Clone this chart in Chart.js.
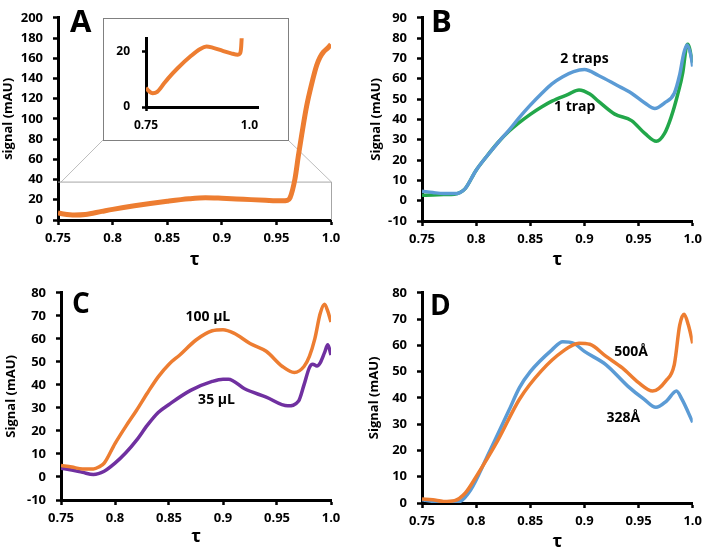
<!DOCTYPE html>
<html><head><meta charset="utf-8">
<script src="https://cdn.jsdelivr.net/npm/chart.js@4/dist/chart.umd.min.js"></script>
<style>
html,body{margin:0;padding:0;background:#fff;}
body{width:707px;height:549px;position:relative;overflow:hidden;}
canvas.p{position:absolute;}
#insetBox{position:absolute;left:103px;top:18px;width:184px;height:121px;border:1px solid #808080;background:#fff;}
#insetBox canvas{position:absolute;left:0;top:0;}
</style></head><body>
<canvas id="cA" class="p" style="left:0px;top:0px" width="353" height="275"></canvas>
<canvas id="cB" class="p" style="left:353px;top:0px" width="354" height="275"></canvas>
<canvas id="cC" class="p" style="left:0px;top:275px" width="353" height="274"></canvas>
<canvas id="cD" class="p" style="left:353px;top:275px" width="354" height="274"></canvas>
<div id="insetBox"><canvas id="cI" width="184" height="121"></canvas></div>
<script>
// ---------- tick labels ----------
const xTicks = [0.75, 0.8, 0.85, 0.9, 0.95, 1.0];
const yTicksA = [0, 20, 40, 60, 80, 100, 120, 140, 160, 180, 200];
const yTicksB = [-10, 0, 10, 20, 30, 40, 50, 60, 70, 80, 90];
const yTicksC = [-10, 0, 10, 20, 30, 40, 50, 60, 70, 80];
const yTicksD = [0, 10, 20, 30, 40, 50, 60, 70, 80];
const insetXTicks = [0.75, 1.0];
const insetYTicks = [0, 20];

// ---------- panel A ----------
const aTau = [0.75,0.755,0.765,0.775,0.79,0.8,0.82,0.85,0.87,0.885,0.9,0.92,0.94,0.955,0.96,0.9625,0.967,0.97,0.9732,0.9777,0.9823,0.9869,0.99,0.993,0.9975,1.0];
const aSignal = [7,6,5,5.5,8.5,10.5,14,18.5,21,22,21.5,20.5,19.5,19,19.5,22,40.7,62.6,84.5,112.7,134.6,153,161,166,170.6,173.7];

// ---------- panel B ----------
const bTau2 = [0.75,0.76,0.77,0.78,0.785,0.79,0.8,0.81,0.82,0.83,0.84,0.85,0.86,0.87,0.88,0.89,0.9,0.913,0.93,0.9435,0.9558,0.965,0.974,0.983,0.9878,0.9918,0.9948,0.9985,1.0];
const bTwoTraps = [4.7,4,3.5,3.5,4,6,15,22,28.5,34.5,41,47,52.5,57.5,61,63.5,64.5,61.6,56.8,52.9,48.1,45.4,48.1,52.9,61.6,72.6,76.6,71,66];
const bTau1 = [0.75,0.76,0.77,0.78,0.785,0.79,0.8,0.81,0.82,0.83,0.84,0.85,0.86,0.87,0.885,0.895,0.905,0.913,0.928,0.9435,0.9558,0.9664,0.974,0.98,0.986,0.9908,0.9939,0.9954,1.0];
const bOneTrap = [2.7,2.8,3,3.2,4,6,15,22,28.5,34,38.5,42.5,46,49,52.3,54.5,52.5,48.9,42.6,39.4,33.1,29.2,33.1,41,52,63,75,77,68];

// ---------- panel C ----------
const cTau100 = [0.75,0.76,0.77,0.78,0.785,0.79,0.8,0.81,0.82,0.83,0.84,0.85,0.86,0.875,0.89,0.9,0.91,0.925,0.94,0.955,0.966,0.975,0.98,0.985,0.99,0.994,0.997,1.0];
const c100uL = [5,4.3,3.5,3.5,4.3,6,14.5,22,29,36.5,43.5,49,53,59.5,63.5,64,62.5,58,54.6,48,45.4,48,52.4,60,71,75,72,67.3];
const cTau35 = [0.75,0.76,0.77,0.78,0.79,0.8,0.81,0.82,0.83,0.84,0.85,0.87,0.89,0.9,0.905,0.92,0.94,0.96,0.97,0.975,0.98,0.983,0.987,0.99,0.994,0.997,1.0];
const c35uL = [3.8,3,2,1.1,2.5,6,10.5,16,22.5,28,31.5,37.6,41.5,42.5,42.5,38.3,34.7,30.9,33,40,47.5,49,48.2,49.6,54,57.4,53];

// ---------- panel D ----------
const dTau328 = [0.75,0.76,0.77,0.785,0.795,0.81,0.83,0.84,0.85,0.87,0.88,0.89,0.9,0.92,0.94,0.955,0.966,0.976,0.985,0.99,1.0];
const d328A = [1.2,0.6,0,0.6,5,17.5,35,43.9,50,58.3,61.4,60.8,57.7,52.6,44.5,39.5,36.4,38.9,42.6,39.5,30.7];
const dTau500 = [0.75,0.76,0.77,0.78,0.79,0.8,0.82,0.84,0.86,0.88,0.895,0.905,0.92,0.935,0.95,0.963,0.975,0.983,0.988,0.992,0.996,1.0];
const d500A = [1.5,1.2,0.6,0.9,3.8,10,23.8,39.5,50.2,57.7,60.8,60.4,55.8,51.4,45.8,42.6,46.4,52.7,67.7,71.8,67.7,60.8];

// ---------- colours ----------
const ORANGE = '#ED7D31', BLUE = '#5B9BD5', GREEN = '#22A74A', PURPLE = '#7030A0';

const zip = (xs, ys) => xs.map((x, i) => ({x: x, y: ys[i]}));
const FONT = "'Open Sans', 'DejaVu Sans', sans-serif";
Chart.defaults.font.family = FONT;
Chart.defaults.font.weight = 'bold';
Chart.defaults.color = '#000';

function line(xs, ys, color, w) {
  return {data: zip(xs, ys), borderColor: color, borderWidth: w, pointRadius: 0,
          fill: false, tension: 0.4, cubicInterpolationMode: 'monotone'};
}

function xScale(xh, tpad) {
  return {type: 'linear', min: 0.75, max: 1.0,
    afterBuildTicks: s => { s.ticks = xTicks.map(v => ({value: v})); },
    afterFit: s => { s.height = xh; },
    ticks: {callback: v => (v === 1 ? '1.0' : String(v)), padding: 5, color: '#000',
            font: {size: 13, weight: 'bold'}, maxRotation: 0, autoSkip: false},
    grid: {display: true, drawOnChartArea: false, drawTicks: true, tickLength: 5, tickWidth: 2.5, tickColor: '#000'},
    border: {display: true, color: '#000', width: 3},
    title: {display: true, text: 'τ', color: '#000', font: {size: 18, weight: 'bold'}, padding: {top: 0, bottom: tpad}}
  };
}
function yScale(ticks, yw, title, tpad) {
  return {type: 'linear', min: ticks[0], max: ticks[ticks.length - 1],
    afterBuildTicks: s => { s.ticks = ticks.map(v => ({value: v})); },
    afterFit: s => { s.width = yw; },
    ticks: {padding: 10, color: '#000', font: {size: 13, weight: 'bold'}, autoSkip: false},
    grid: {display: true, drawOnChartArea: false, drawTicks: true, tickLength: 5, tickWidth: 2.5, tickColor: '#000'},
    border: {display: true, color: '#000', width: 3},
    title: {display: true, text: title, color: '#000', font: {size: 13, weight: 'bold'}, padding: {top: tpad, bottom: 0}}
  };
}

function annot(letter, lx, ly, lsize, labels) {
  return {id: 'annot' + letter,
    afterDatasetsDraw(chart) {
      const ctx = chart.ctx, xs = chart.scales.x, ys = chart.scales.y;
      ctx.save();
      ctx.fillStyle = '#000';
      ctx.textAlign = 'center'; ctx.textBaseline = 'middle';
      ctx.font = 'bold 14px ' + FONT;
      labels.forEach(l => ctx.fillText(l.text, xs.getPixelForValue(l.x), ys.getPixelForValue(l.y)));
      ctx.textAlign = 'left'; ctx.textBaseline = 'alphabetic';
      ctx.font = 'bold ' + lsize + 'px ' + FONT;
      ctx.fillText(letter, lx, ly);
      ctx.restore();
    }};
}

const INSET = {left: 103, top: 18, width: 186, height: 123};
const zoomRect = {x0: 0.75, x1: 1.0, y0: 0, y1: 38};

const zoomPlugin = {id: 'zoomRect',
  beforeDatasetsDraw(chart) {
    const ctx = chart.ctx, xs = chart.scales.x, ys = chart.scales.y;
    const l = xs.getPixelForValue(zoomRect.x0), r = xs.getPixelForValue(zoomRect.x1);
    const t = ys.getPixelForValue(zoomRect.y1), b = ys.getPixelForValue(zoomRect.y0);
    ctx.save();
    ctx.strokeStyle = '#bdbdbd'; ctx.lineWidth = 1;
    ctx.beginPath();
    ctx.moveTo(l + 3, t + 0.5); ctx.lineTo(INSET.left, INSET.top + INSET.height - 1);
    ctx.moveTo(r + 0.5, t + 0.5); ctx.lineTo(INSET.left + INSET.width - 1, INSET.top + INSET.height - 1);
    ctx.stroke();
    ctx.strokeStyle = '#a6a6a6';
    ctx.beginPath();
    ctx.moveTo(l, t + 0.5); ctx.lineTo(r + 0.5, t + 0.5); ctx.lineTo(r + 0.5, b);
    ctx.stroke();
    ctx.restore();
  }};

function make(id, datasets, scales, padding, plugins) {
  return new Chart(document.getElementById(id), {
    type: 'line',
    data: {datasets: datasets},
    options: {responsive: false, animation: false, devicePixelRatio: 1,
      layout: {padding: padding},
      plugins: {legend: {display: false}, tooltip: {enabled: false}},
      scales: scales},
    plugins: plugins
  });
}

// A
make('cA', [line(aTau, aSignal, ORANGE, 5)],
  {x: xScale(55, 4), y: yScale(yTicksA, 58, 'signal (mAU)', 0)},
  {top: 7, right: 22, left: 0, bottom: 0},
  [zoomPlugin, annot('A', 70, 32, 31, [])]);

// B
make('cB', [line(bTau2, bTwoTraps, BLUE, 3.5), line(bTau1, bOneTrap, GREEN, 3.5)],
  {x: xScale(54, 4), y: yScale(yTicksB, 69, 'Signal (mAU)', 15)},
  {top: 10, right: 12, left: 0, bottom: 0},
  [annot('B', 78, 32, 31, [{text: '2 traps', x: 0.900, y: 69.6}, {text: '1 trap', x: 0.891, y: 45.9}])]);

// C
make('cC', [line(cTau100, c100uL, ORANGE, 3.5), line(cTau35, c35uL, PURPLE, 3.5)],
  {x: xScale(49, 1), y: yScale(yTicksC, 61, 'Signal (mAU)', 3)},
  {top: 13, right: 22, left: 0, bottom: 0},
  [annot('C', 72, 38, 28, [{text: '100 µL', x: 0.886, y: 69.4}, {text: '35 µL', x: 0.894, y: 33.3}])]);

// D
make('cD', [line(dTau500, d500A, ORANGE, 3.5), line(dTau328, d328A, BLUE, 3.5)],
  {x: xScale(46, -4), y: yScale(yTicksD, 69, 'Signal (mAU)', 13)},
  {top: 16, right: 12, left: 0, bottom: 0},
  [annot('D', 77, 40, 28, [{text: '500Å', x: 0.943, y: 57.4}, {text: '328Å', x: 0.936, y: 32.5}])]);

// Inset
const insetLabels = {id: 'insetLabels',
  afterDraw(chart) {
    const ctx = chart.ctx, xs = chart.scales.x, b = chart.chartArea.bottom;
    ctx.save();
    ctx.fillStyle = '#000'; ctx.font = 'bold 12px ' + FONT; ctx.textBaseline = 'middle';
    insetXTicks.forEach((v, i) => {
      ctx.textAlign = i === 0 ? 'center' : 'right';
      ctx.fillText(v === 1 ? '1.0' : String(v), xs.getPixelForValue(v), b + 19);
    });
    ctx.restore();
  }};
new Chart(document.getElementById('cI'), {
  type: 'line',
  data: {datasets: [line(aTau, aSignal, ORANGE, 4)]},
  options: {responsive: false, animation: false, devicePixelRatio: 1,
    layout: {padding: {top: 10, right: 30, left: 0, bottom: 0}},
    plugins: {legend: {display: false}, tooltip: {enabled: false}},
    scales: {
      x: {type: 'linear', min: 0.75, max: 1.0,
        afterBuildTicks: s => { s.ticks = [{value: insetXTicks[0]}]; },
        afterFit: s => { s.height = 33; },
        ticks: {display: false},
        grid: {display: true, drawOnChartArea: false, drawTicks: true, tickLength: 4, tickWidth: 2.5, tickColor: '#000'},
        border: {display: true, color: '#000', width: 3}},
      y: {type: 'linear', min: 0, max: 25,
        afterBuildTicks: s => { s.ticks = insetYTicks.map(v => ({value: v})); },
        afterFit: s => { s.width = 42; },
        ticks: {padding: 12, color: '#000', font: {size: 12, weight: 'bold'}},
        grid: {display: true, drawOnChartArea: false, drawTicks: true, tickLength: 4, tickWidth: 2.5, tickColor: '#000'},
        border: {display: true, color: '#000', width: 3}}
    }},
  plugins: [insetLabels]
});
</script>
</body></html>
